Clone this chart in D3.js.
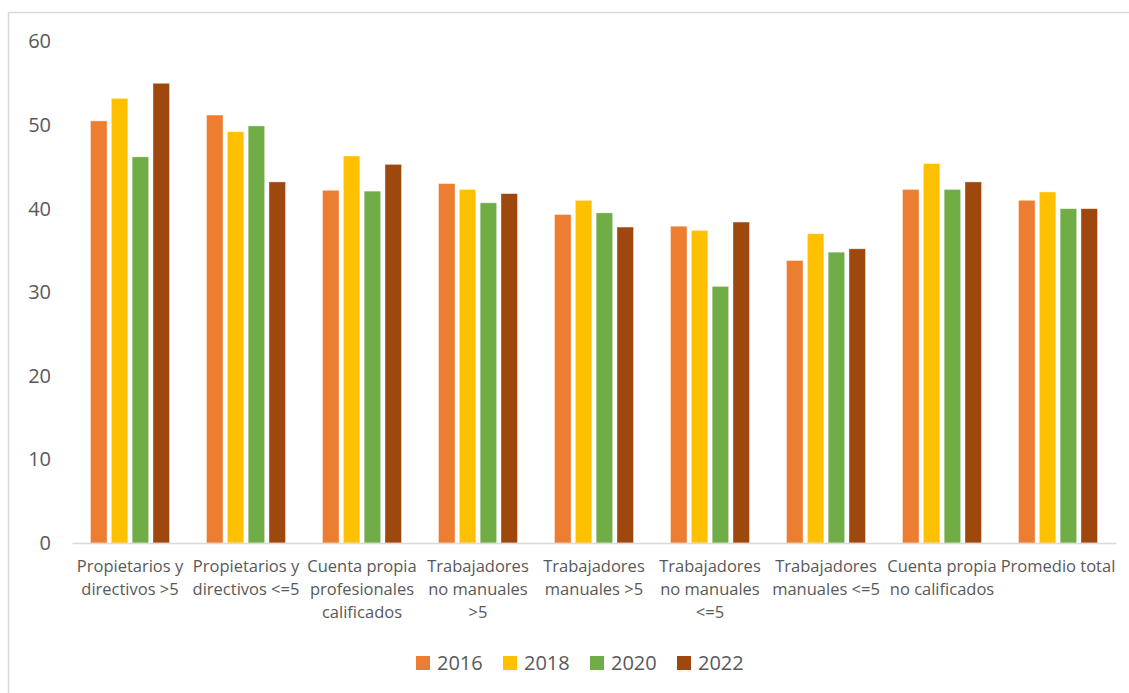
<!DOCTYPE html>
<html>
<head>
<meta charset="utf-8">
<script src="https://cdn.jsdelivr.net/npm/d3@7"></script>
<style>
  body { margin: 0; background: #fff; }
  svg text { font-family: "Open Sans", "Liberation Sans", sans-serif; fill: #595959; }
</style>
</head>
<body>
<div id="chart"></div>
<script>
// ============
//   Data
// ============

// Category labels (line breaks as in the original)
const categories = [
    "Propietarios y\ndirectivos >5",
    "Propietarios y\ndirectivos <=5",
    "Cuenta propia\nprofesionales\ncalificados",
    "Trabajadores\nno manuales\n>5",
    "Trabajadores\nmanuales >5",
    "Trabajadores\nno manuales\n<=5",
    "Trabajadores\nmanuales <=5",
    "Cuenta propia\nno calificados",
    "Promedio total"
];

const years = ["2016", "2018", "2020", "2022"];

const values2016 = [50.5, 51.2, 42.2, 43.0, 39.3, 37.9, 33.8, 42.3, 41.0];
const values2018 = [53.2, 49.2, 46.3, 42.3, 41.0, 37.4, 37.0, 45.4, 42.0];
const values2020 = [46.2, 49.9, 42.1, 40.7, 39.5, 30.7, 34.8, 42.3, 40.0];
const values2022 = [55.0, 43.2, 45.3, 41.8, 37.8, 38.4, 35.2, 43.2, 40.0];

const yTicks = [0, 10, 20, 30, 40, 50, 60];

const colors = {
    "2016": "#ED7D31",
    "2018": "#FFC000",
    "2020": "#70AD47",
    "2022": "#9E480E"
};

// ============
//   Plot box
// ============

const W = 1129, H = 693;
const left = 72, right = 1116;
const y0 = 543, yTop = 41.5;

const seriesByYear = {
    "2016": values2016,
    "2018": values2018,
    "2020": values2020,
    "2022": values2022
};

// rows used by the grouped bars
const rows = categories.map((c, i) => ({
    cat: c,
    vals: years.map(yr => ({ year: yr, value: seriesByYear[yr][i] }))
}));

const svg = d3.select("#chart").append("svg")
    .attr("width", W)
    .attr("height", H);

// chart frame (only top and left edges are visible in the picture)
svg.append("path")
    .attr("d", `M8.5,${H} L8.5,12.5 L${W},12.5`)
    .attr("fill", "none")
    .attr("stroke", "#d9d9d9")
    .attr("stroke-width", 1.5);

// Scales
const x0 = d3.scaleBand()
    .domain(categories)
    .range([left, right])
    .padding(0);

const x1 = d3.scaleBand()
    .domain(years)
    .range([18.5, x0.bandwidth() - 18.5])
    .paddingInner(0.207)
    .paddingOuter(0);

const y = d3.scaleLinear()
    .domain([0, 60])
    .range([y0, yTop]);

// Y axis (labels only)
const yAxis = svg.append("g")
    .attr("transform", `translate(${left},0)`)
    .call(d3.axisLeft(y).tickValues(yTicks).tickSize(0).tickPadding(21));
yAxis.select(".domain").remove();
yAxis.selectAll("text")
    .attr("font-size", 20)
    .attr("font-family", null)
    .style("fill", "#595959");

// Bars
const groups = svg.append("g").selectAll("g")
    .data(rows)
    .join("g")
        .attr("transform", d => `translate(${x0(d.cat)},0)`);

groups.selectAll("rect")
    .data(d => d.vals)
    .join("rect")
        .attr("x", d => x1(d.year))
        .attr("y", d => y(d.value))
        .attr("width", x1.bandwidth())
        .attr("height", d => y0 - y(d.value))
        .attr("fill", d => colors[d.year])
        .attr("stroke", "#fff")
        .attr("stroke-opacity", 0.5)
        .attr("stroke-width", 0.75);

// X axis baseline
const xAxis = svg.append("g")
    .attr("transform", `translate(0,${y0})`)
    .call(d3.axisBottom(x0).tickSize(0).tickSizeOuter(0).tickFormat(""));
xAxis.select(".domain").attr("stroke", "#d9d9d9").attr("stroke-width", 1.3);

// Category labels (multi-line)
const catLabels = svg.append("g").selectAll("text")
    .data(categories)
    .join("text")
        .attr("text-anchor", "middle")
        .attr("font-size", 16.5)
        .attr("x", d => x0(d) + x0.bandwidth() / 2)
        .attr("y", 572);

catLabels.selectAll("tspan")
    .data(d => d.split("\n").map(line => ({ line, x: x0(d) + x0.bandwidth() / 2 })))
    .join("tspan")
        .attr("x", d => d.x)
        .attr("dy", (d, i) => i === 0 ? 0 : 23)
        .text(d => d.line);

// Legend
const legend = svg.append("g").selectAll("g")
    .data(years)
    .join("g")
        .attr("transform", (d, i) => `translate(${416 + i * 87},656)`);

legend.append("rect")
    .attr("width", 14)
    .attr("height", 14)
    .attr("fill", d => colors[d]);

legend.append("text")
    .attr("x", 21)
    .attr("y", 14)
    .attr("font-size", 20)
    .text(d => d);
</script>
</body>
</html>
